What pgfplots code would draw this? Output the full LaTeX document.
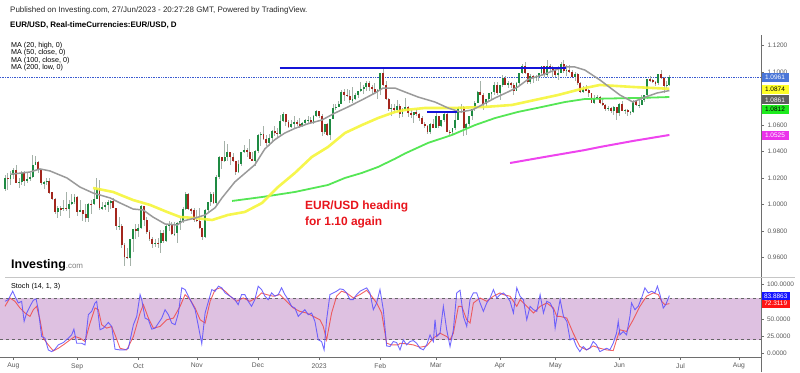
\documentclass[border=0pt]{standalone}
\usepackage{pgfplots}
\pgfplotsset{compat=1.18}
\usepackage{pgfplotstable}
\usepackage{fontspec}
\setmainfont{Liberation Sans}
\definecolor{upc}{HTML}{1E8A42}
\definecolor{dnc}{HTML}{A3261D}
\definecolor{wickc}{HTML}{A5B2A9}
\definecolor{ma20}{HTML}{9A9A9A}
\definecolor{ma50}{HTML}{F5F53A}
\definecolor{ma100}{HTML}{55E655}
\definecolor{ma200}{HTML}{EE44EE}
\definecolor{hline}{HTML}{1414D8}
\definecolor{band}{HTML}{DEC1E1}
\definecolor{stk}{HTML}{5A50FF}
\definecolor{std}{HTML}{F04848}
\definecolor{txtg}{HTML}{5A5A5A}
\definecolor{redtxt}{HTML}{E8141C}
\definecolor{axc}{HTML}{6E6E6E}
\definecolor{dotc}{HTML}{3A5AD0}

\pgfplotstableread{
i o h l c
-3 1.0117 1.0220 1.0100 1.0200
-2 1.0200 1.0235 1.0110 1.0195
-1 1.0195 1.0255 1.0145 1.0220
0 1.0220 1.0275 1.0195 1.0260
1 1.0260 1.0295 1.0160 1.0165
2 1.0165 1.0200 1.0125 1.0172
3 1.0172 1.0255 1.0150 1.0245
4 1.0245 1.0250 1.0140 1.0180
5 1.0180 1.0235 1.0160 1.0195
6 1.0195 1.0240 1.0180 1.0210
7 1.0210 1.0370 1.0200 1.0300
8 1.0300 1.0365 1.0295 1.0320
9 1.0320 1.0325 1.0235 1.0260
10 1.0260 1.0265 1.0150 1.0160
11 1.0160 1.0180 1.0120 1.0170
12 1.0170 1.0200 1.0150 1.0180
13 1.0180 1.0200 1.0080 1.0090
14 1.0090 1.0095 1.0035 1.0040
15 1.0040 1.0045 0.9925 0.9940
16 0.9940 0.9985 0.9900 0.9970
17 0.9970 0.9990 0.9910 0.9965
18 0.9965 1.0030 0.9950 0.9975
19 0.9975 1.0090 0.9950 0.9965
20 0.9965 1.0030 0.9900 1.0000
21 1.0000 1.0080 0.9995 1.0015
22 1.0015 1.0080 1.0000 1.0055
23 1.0055 1.0060 0.9910 0.9945
24 0.9945 1.0035 0.9940 0.9955
25 0.9955 0.9960 0.9875 0.9925
26 0.9925 1.0000 0.9865 0.9900
27 0.9900 1.0010 0.9865 1.0005
28 1.0005 1.0030 0.9930 1.0000
29 1.0000 1.0115 0.9995 1.0040
30 1.0040 1.0200 1.0040 1.0120
31 1.0120 1.0185 0.9960 0.9970
32 0.9970 1.0020 0.9955 0.9980
33 0.9980 1.0015 0.9955 0.9995
34 0.9995 1.0035 0.9945 1.0015
35 1.0015 1.0030 0.9965 1.0025
36 1.0025 1.0050 0.9970 0.9970
37 0.9970 0.9975 0.9810 0.9835
38 0.9835 0.9905 0.9805 0.9840
39 0.9840 0.9850 0.9670 0.9690
40 0.9690 0.9710 0.9535 0.9605
41 0.9605 0.9670 0.9590 0.9595
42 0.9595 0.9740 0.9535 0.9735
43 0.9735 0.9815 0.9640 0.9815
44 0.9815 0.9855 0.9735 0.9800
45 0.9800 0.9855 0.9750 0.9825
46 0.9825 0.9999 0.9815 0.9985
47 0.9985 0.9990 0.9835 0.9885
48 0.9885 0.9905 0.9780 0.9795
49 0.9795 0.9810 0.9720 0.9740
50 0.9740 0.9755 0.9670 0.9700
51 0.9700 0.9740 0.9680 0.9710
52 0.9710 0.9745 0.9670 0.9705
53 0.9705 0.9810 0.9630 0.9785
54 0.9785 0.9810 0.9710 0.9720
55 0.9720 0.9845 0.9715 0.9835
56 0.9835 0.9875 0.9800 0.9855
57 0.9855 0.9865 0.9765 0.9775
58 0.9775 0.9870 0.9760 0.9780
59 0.9780 0.9870 0.9705 0.9860
60 0.9860 0.9900 0.9810 0.9875
61 0.9875 0.9980 0.9860 0.9965
62 0.9965 1.0095 0.9960 1.0080
63 1.0080 1.0090 0.9960 0.9965
64 0.9965 0.9975 0.9930 0.9958
65 0.9958 0.9975 0.9870 0.9885
66 0.9885 0.9955 0.9870 0.9875
67 0.9875 0.9975 0.9815 0.9820
68 0.9820 0.9825 0.9730 0.9750
69 0.9750 0.9965 0.9745 0.9960
70 0.9960 1.0020 0.9935 1.0020
71 1.0020 1.0095 0.9990 1.0075
72 1.0075 1.0095 1.0005 1.0010
73 1.0010 1.0225 0.9995 1.0205
74 1.0205 1.0365 1.0190 1.0355
75 1.0355 1.0360 1.0270 1.0325
76 1.0325 1.0480 1.0320 1.0355
77 1.0355 1.0455 1.0330 1.0395
78 1.0395 1.0400 1.0300 1.0360
79 1.0360 1.0390 1.0320 1.0325
80 1.0325 1.0330 1.0225 1.0245
81 1.0245 1.0335 1.0240 1.0305
82 1.0305 1.0400 1.0290 1.0395
83 1.0395 1.0450 1.0385 1.0410
84 1.0410 1.0430 1.0360 1.0400
85 1.0400 1.0495 1.0340 1.0340
86 1.0340 1.0400 1.0325 1.0330
87 1.0330 1.0410 1.0290 1.0405
88 1.0405 1.0530 1.0385 1.0525
89 1.0525 1.0545 1.0445 1.0535
90 1.0535 1.0595 1.0485 1.0495
91 1.0495 1.0525 1.0445 1.0465
92 1.0465 1.0535 1.0445 1.0505
93 1.0505 1.0560 1.0480 1.0555
94 1.0555 1.0590 1.0515 1.0540
95 1.0540 1.0575 1.0505 1.0535
96 1.0535 1.0675 1.0525 1.0630
97 1.0630 1.0695 1.0625 1.0680
98 1.0680 1.0685 1.0595 1.0625
99 1.0625 1.0635 1.0575 1.0585
100 1.0585 1.0640 1.0575 1.0605
101 1.0605 1.0665 1.0570 1.0620
102 1.0620 1.0640 1.0595 1.0605
103 1.0605 1.0650 1.0575 1.0595
104 1.0595 1.0625 1.0585 1.0615
105 1.0615 1.0645 1.0610 1.0635
106 1.0635 1.0670 1.0615 1.0640
107 1.0640 1.0660 1.0610 1.0615
108 1.0615 1.0675 1.0605 1.0665
109 1.0665 1.0715 1.0660 1.0705
110 1.0705 1.0710 1.0655 1.0665
111 1.0665 1.0685 1.0520 1.0545
112 1.0545 1.0610 1.0535 1.0605
113 1.0605 1.0615 1.0520 1.0525
114 1.0525 1.0645 1.0485 1.0645
115 1.0645 1.0760 1.0645 1.0730
116 1.0730 1.0760 1.0715 1.0738
117 1.0738 1.0780 1.0735 1.0760
118 1.0760 1.0865 1.0760 1.0850
119 1.0850 1.0875 1.0780 1.0830
120 1.0830 1.0875 1.0810 1.0820
121 1.0820 1.0865 1.0770 1.0790
122 1.0790 1.0890 1.0765 1.0795
123 1.0795 1.0840 1.0790 1.0830
124 1.0830 1.0860 1.0805 1.0855
125 1.0855 1.0925 1.0850 1.0870
126 1.0870 1.0905 1.0835 1.0885
127 1.0885 1.0930 1.0860 1.0915
128 1.0915 1.0930 1.0860 1.0890
129 1.0890 1.0905 1.0835 1.0870
130 1.0870 1.0915 1.0835 1.0850
131 1.0850 1.0870 1.0800 1.0865
132 1.0865 1.0990 1.0830 1.0990
133 1.0990 1.1033 1.0895 1.0905
134 1.0905 1.0930 1.0790 1.0795
135 1.0795 1.0805 1.0710 1.0725
136 1.0725 1.0760 1.0670 1.0730
137 1.0730 1.0760 1.0695 1.0715
138 1.0715 1.0790 1.0700 1.0745
139 1.0745 1.0760 1.0655 1.0680
140 1.0680 1.0730 1.0660 1.0725
141 1.0725 1.0805 1.0705 1.0740
142 1.0740 1.0745 1.0660 1.0690
143 1.0690 1.0715 1.0655 1.0675
144 1.0675 1.0695 1.0615 1.0695
145 1.0695 1.0725 1.0670 1.0685
146 1.0685 1.0695 1.0630 1.0650
147 1.0650 1.0665 1.0605 1.0605
148 1.0605 1.0625 1.0575 1.0595
149 1.0595 1.0600 1.0535 1.0545
150 1.0545 1.0615 1.0535 1.0605
151 1.0605 1.0645 1.0575 1.0575
152 1.0575 1.0690 1.0575 1.0670
153 1.0670 1.0670 1.0580 1.0595
154 1.0595 1.0640 1.0585 1.0635
155 1.0635 1.0695 1.0625 1.0685
156 1.0685 1.0695 1.0545 1.0550
157 1.0550 1.0565 1.0525 1.0545
158 1.0545 1.0580 1.0535 1.0580
159 1.0580 1.0700 1.0560 1.0640
160 1.0640 1.0735 1.0640 1.0730
161 1.0730 1.0760 1.0690 1.0735
162 1.0735 1.0745 1.0515 1.0575
163 1.0575 1.0615 1.0525 1.0610
164 1.0610 1.0670 1.0595 1.0670
165 1.0670 1.0725 1.0635 1.0720
166 1.0720 1.0785 1.0710 1.0770
167 1.0770 1.0855 1.0765 1.0850
168 1.0850 1.0930 1.0825 1.0830
169 1.0830 1.0840 1.0715 1.0760
170 1.0760 1.0800 1.0745 1.0800
171 1.0800 1.0845 1.0775 1.0840
172 1.0840 1.0845 1.0790 1.0848
173 1.0848 1.0925 1.0830 1.0905
174 1.0905 1.0925 1.0830 1.0840
175 1.0840 1.0905 1.0790 1.0900
176 1.0900 1.0975 1.0890 1.0955
177 1.0955 1.0970 1.0900 1.0905
178 1.0905 1.0935 1.0880 1.0920
179 1.0920 1.0925 1.0880 1.0905
180 1.0905 1.0915 1.0830 1.0860
181 1.0860 1.0925 1.0860 1.0915
182 1.0915 1.0995 1.0905 1.0990
183 1.0990 1.1065 1.0985 1.1045
184 1.1045 1.1075 1.0985 1.0990
185 1.0990 1.0995 1.0910 1.0925
186 1.0925 1.0985 1.0910 1.0970
187 1.0970 1.0975 1.0915 1.0960
188 1.0960 1.0975 1.0935 1.0965
189 1.0965 1.0995 1.0935 1.0990
190 1.0990 1.1045 1.0975 1.1045
191 1.1045 1.1050 1.0965 1.0975
192 1.0975 1.1095 1.0965 1.1045
193 1.1045 1.1065 1.1000 1.1030
194 1.1030 1.1050 1.0960 1.1015
195 1.1015 1.1025 1.0965 1.0975
196 1.0975 1.1045 1.0940 1.0995
197 1.0995 1.1080 1.0990 1.1065
198 1.1065 1.1090 1.0995 1.1010
199 1.1010 1.1055 1.0970 1.1020
200 1.1020 1.1055 1.0990 1.1005
201 1.1005 1.1015 1.0960 1.0960
202 1.0960 1.1000 1.0935 1.0985
203 1.0985 1.0990 1.0905 1.0915
204 1.0915 1.0925 1.0845 1.0850
205 1.0850 1.0895 1.0840 1.0870
206 1.0870 1.0905 1.0855 1.0865
207 1.0865 1.0875 1.0810 1.0840
208 1.0840 1.0845 1.0770 1.0770
209 1.0770 1.0830 1.0760 1.0805
210 1.0805 1.0830 1.0795 1.0815
211 1.0815 1.0820 1.0760 1.0770
212 1.0770 1.0805 1.0745 1.0750
213 1.0750 1.0760 1.0705 1.0725
214 1.0725 1.0745 1.0705 1.0730
215 1.0730 1.0735 1.0690 1.0705
216 1.0705 1.0745 1.0675 1.0735
217 1.0735 1.0740 1.0635 1.0690
218 1.0690 1.0765 1.0665 1.0760
219 1.0760 1.0780 1.0705 1.0710
220 1.0710 1.0725 1.0680 1.0715
221 1.0715 1.0720 1.0665 1.0695
222 1.0695 1.0710 1.0675 1.0700
223 1.0700 1.0790 1.0690 1.0780
224 1.0780 1.0790 1.0745 1.0750
225 1.0750 1.0790 1.0730 1.0755
226 1.0755 1.0825 1.0750 1.0790
227 1.0790 1.0830 1.0775 1.0830
228 1.0830 1.0950 1.0800 1.0945
229 1.0945 1.0970 1.0925 1.0940
230 1.0940 1.0945 1.0915 1.0925
231 1.0925 1.0935 1.0895 1.0915
232 1.0915 1.0985 1.0900 1.0985
233 1.0985 1.1013 1.0950 1.0955
234 1.0955 1.0960 1.0845 1.0895
235 1.0895 1.0935 1.0880 1.0905
236 1.0905 1.0975 1.0895 1.0961
}\candles

\pgfplotstableread{
i p
-1 1.0228
6.0 1.0245
9.6 1.0268
13.2 1.0253
19.3 1.0200
24.0 1.0131
28.7 1.0086
34.8 1.0049
38.4 1.0011
43.1 0.9965
46.7 0.9958
50.2 0.9905
54.6 0.9852
58.9 0.9844
61.0 0.9874
65.4 0.9897
69.0 0.9920
72.6 0.9975
75.1 1.0050
79.7 1.0170
86.9 1.0300
90.5 1.0420
94.1 1.0490
97.7 1.0540
101.3 1.0575
106.0 1.0610
111.0 1.0638
115.7 1.0691
120.4 1.0737
125.4 1.0790
130.1 1.0842
133.0 1.0880
137.3 1.0880
140.9 1.0850
145.6 1.0812
151.7 1.0774
156.4 1.0729
160.7 1.0699
165.0 1.0714
168.6 1.0752
173.3 1.0805
177.9 1.0850
181.5 1.0888
185.1 1.0945
190.2 1.0978
194.9 1.1016
198.4 1.1039
202.0 1.1039
205.6 1.1016
211.0 1.0941
218.2 1.0827
222.9 1.0774
226.5 1.0805
231.5 1.0842
236 1.0861
}\maA

\pgfplotstableread{
i p
28.7 1.0124
35.9 1.0094
43.1 1.0033
49.2 0.9996
55.3 0.9943
60.0 0.9905
65.4 0.9897
71.5 0.9882
77.2 0.9920
83.3 0.9943
89.5 1.0011
95.2 1.0131
101.3 1.0238
107.4 1.0359
113.2 1.0434
119.3 1.0540
125.4 1.0600
131.2 1.0653
137.3 1.0699
140.9 1.0714
148.1 1.0729
157.8 1.0729
169.7 1.0737
179.4 1.0752
187.7 1.0790
195.9 1.0827
205.6 1.0880
211.0 1.0903
222.9 1.0888
236 1.0874
}\maB

\pgfplotstableread{
i p
78.7 1.0026
89.5 1.0056
101.3 1.0094
113.2 1.0147
119.3 1.0200
125.4 1.0238
131.2 1.0283
137.3 1.0345
140.9 1.0385
149.2 1.0465
157.8 1.0525
166.1 1.0600
173.3 1.0653
181.5 1.0699
190.2 1.0737
198.4 1.0774
205.6 1.0797
214.6 1.0801
225.4 1.0805
236 1.0812
}\maC

\pgfplotstableread{
i p
178.7 1.0313
192.0 1.0362
205.6 1.0411
211.0 1.0434
223.0 1.0480
236 1.0525
}\maD

\pgfplotstableread{
i v
-3.0 75.6
-1.8 78.1
-0.2 90.3
0.6 83.0
1.8 73.2
3.0 75.6
3.9 46.4
4.8 58.6
6.0 68.3
7.2 77.1
8.2 79.1
9.0 63.4
10.2 24.4
11.4 22.0
12.6 4.9
13.8 2.4
15.0 5.9
16.2 12.2
18.0 15.6
19.8 22.0
21.0 26.8
21.8 35.1
22.8 14.6
24.6 14.6
25.8 12.2
27.0 56.1
28.2 61.0
29.4 73.2
30.0 75.6
31.2 34.2
32.4 36.6
34.2 44.9
35.4 39.0
36.6 5.9
38.4 4.9
40.2 4.9
41.4 7.3
43.2 41.5
44.4 53.7
45.6 85.4
46.2 78.1
47.4 51.2
48.6 48.8
49.8 35.1
51.0 36.6
52.2 43.9
53.4 51.2
54.6 63.4
55.8 56.1
57.0 43.9
58.2 41.5
59.4 58.6
60.6 95.2
61.8 92.7
63.0 83.0
64.2 73.2
65.4 63.4
66.6 39.0
67.8 13.7
69.0 58.6
70.2 75.6
71.4 92.7
72.6 90.3
73.8 97.6
75.0 95.2
76.2 87.8
78.0 83.0
79.7 78.1
80.9 70.8
82.1 85.4
83.3 85.4
84.5 75.6
85.7 68.3
86.9 78.1
88.1 97.6
89.3 92.7
90.5 83.0
91.7 78.1
92.9 87.8
94.1 83.0
95.3 85.4
96.5 95.2
97.7 85.4
98.9 78.1
100.1 68.3
101.3 65.9
102.5 53.7
103.7 58.6
104.9 63.4
106.1 56.1
107.3 58.6
108.5 46.4
109.7 19.5
110.9 17.1
111.8 4.9
112.7 48.8
113.9 85.4
115.1 87.8
116.3 90.3
117.5 93.7
118.7 92.7
119.9 87.8
121.1 78.1
122.3 78.1
123.5 85.4
124.7 90.3
125.9 92.7
127.1 95.2
128.3 87.8
129.5 63.4
130.7 73.2
131.9 92.7
133.1 63.4
134.3 10.7
135.5 9.8
136.7 17.1
137.9 15.6
139.1 4.9
140.3 19.5
141.5 12.2
142.7 17.1
143.9 18.5
145.1 14.6
146.3 7.3
147.5 4.9
148.7 12.2
149.9 26.8
151.1 17.1
151.7 48.8
152.3 24.4
153.5 29.3
154.7 68.3
155.9 34.2
157.1 9.8
158.3 34.2
159.5 87.8
160.7 91.7
161.9 53.7
163.1 39.0
164.3 78.1
165.5 87.8
166.7 87.8
167.9 73.2
169.1 61.0
170.3 73.2
171.5 80.5
172.7 92.7
173.9 80.5
175.1 85.4
176.3 87.8
177.5 83.0
178.7 75.6
179.9 58.6
181.1 95.2
182.3 83.0
183.5 78.1
184.7 48.8
185.9 68.3
187.1 63.4
188.3 61.0
189.5 85.4
190.7 58.6
191.9 75.6
193.1 73.2
194.3 63.4
194.9 36.6
195.5 51.2
196.7 78.1
197.9 53.7
199.1 46.4
200.3 19.5
201.4 22.0
202.6 9.8
203.8 2.4
205.0 9.8
206.2 4.9
207.4 7.3
208.6 17.1
209.8 12.2
211.0 2.4
212.2 4.9
213.4 7.3
214.6 4.9
215.8 14.6
217.0 29.3
217.6 46.4
218.2 26.8
219.4 31.7
220.6 26.8
221.8 53.7
222.4 73.2
223.6 63.4
224.8 68.3
226.0 80.5
227.2 95.2
228.4 87.8
229.6 90.3
230.8 87.8
231.7 97.6
232.6 85.4
233.8 65.9
234.7 70.8
236.0 83.9
}\stochK

\pgfplotstableread{
i v
-3.0 68.3
-1.2 80.5
0.6 75.6
2.4 65.9
4.2 58.6
6.0 53.7
7.2 63.4
8.4 68.3
9.6 48.8
10.8 22.0
12.6 12.2
14.4 3.4
16.2 7.3
18.0 12.2
20.4 19.5
22.2 24.4
24.0 22.0
25.8 17.1
27.6 43.9
29.4 65.9
30.6 63.4
31.8 41.5
33.6 36.6
35.4 39.0
36.6 26.8
38.4 7.3
40.8 4.9
43.2 24.4
45.6 58.6
46.8 70.8
48.6 51.2
50.4 36.6
52.8 39.0
55.2 48.8
57.6 51.2
60.0 68.3
61.8 85.4
63.6 78.1
65.4 65.9
67.2 48.8
69.0 43.9
70.8 75.6
72.6 92.7
74.4 95.2
76.2 90.3
78.0 83.0
80.3 75.6
82.7 80.5
85.1 75.6
87.5 80.5
89.3 87.8
91.1 85.4
93.5 83.0
95.9 85.4
98.3 75.6
100.7 65.9
103.1 61.0
105.5 58.6
107.9 53.7
110.3 48.8
111.5 39.0
112.7 19.5
114.5 58.6
116.3 83.0
118.1 90.3
119.9 87.8
122.3 80.5
124.7 85.4
127.1 91.7
128.9 83.0
130.7 73.2
132.5 58.6
134.3 14.6
136.1 12.2
138.5 12.2
139.1 14.6
141.5 13.7
143.9 12.2
146.3 8.8
148.7 10.7
151.1 22.0
153.5 29.3
155.9 24.4
157.1 19.5
158.3 29.3
160.1 68.3
161.3 68.3
163.1 48.8
164.3 43.9
165.5 73.2
167.9 80.5
170.3 75.6
172.7 83.0
173.9 85.4
175.1 87.8
176.3 85.4
178.7 83.0
179.9 75.6
181.1 68.3
182.3 78.1
184.7 68.3
187.1 58.6
189.5 68.3
191.9 73.2
194.3 65.9
195.5 53.7
196.7 53.7
199.1 51.2
201.4 29.3
203.8 9.8
206.2 4.9
208.6 10.7
211.0 7.3
213.4 4.9
215.8 3.9
217.0 19.5
218.2 34.2
220.6 31.7
223.0 48.8
225.4 68.3
227.8 83.0
230.2 87.8
232.0 85.4
233.2 75.6
234.4 70.8
236.0 72.3
}\stochD

\pgfplotsset{
  candlebase/.style={draw=none, mark=none, forget plot,
    error bars/.cd, y dir=both, y explicit, error mark=none},
}
\tikzset{
  pbox/.style={anchor=west, font=\fontsize{6.5}{7}\selectfont, inner xsep=2bp,
    inner ysep=0pt, minimum width=27.5bp, minimum height=9bp, text depth=0pt},
}

\begin{document}
\begin{tikzpicture}[x=1bp,y=1bp]
\useasboundingbox (0,0) rectangle (800,372);

% ---------------- main price pane ----------------
\begin{axis}[
  at={(0bp,95bp)}, anchor=south west,
  scale only axis, width=761bp, height=242bp,
  xmin=-4.78, xmax=268.96, ymin=0.9451, ymax=1.1281,
  axis x line=none, axis y line=right,
  axis line style={-, draw=axc, line width=0.8bp},
  ytick={0.96,0.98,1.00,1.02,1.04,1.06,1.10,1.12},
  tick align=outside, major tick length=3bp,
  tick style={draw=axc, line width=0.5bp},
  yticklabel style={font=\fontsize{6.5}{7}\selectfont, text=txtg,
    /pgf/number format/.cd, fixed, fixed zerofill, precision=4, assume math mode=true},
  clip=false,
]
% current price dotted line
\addplot[dotc, densely dotted, line width=0.7bp, forget plot] coordinates {(-4.78,1.0961) (268.96,1.0961)};

% wicks
\addplot[candlebase, error bar style={draw=wickc, line width=0.6bp, solid}]
  table[x=i, y expr={(\thisrow{h}+\thisrow{l})/2}, y error expr={(\thisrow{h}-\thisrow{l})/2}]{\candles};
% up bodies
\addplot[candlebase, error bar style={draw=upc, line width=1.9bp, solid}]
  table[x=i, y expr={(\thisrow{o}+\thisrow{c})/2}, y error expr={max(\thisrow{c}-\thisrow{o},0)/2}]{\candles};
% down bodies
\addplot[candlebase, error bar style={draw=dnc, line width=1.9bp, solid}]
  table[x=i, y expr={(\thisrow{o}+\thisrow{c})/2}, y error expr={max(\thisrow{o}-\thisrow{c},0)/2}]{\candles};

% moving averages
\addplot[ma200, line width=2bp, mark=none] table[x=i, y=p]{\maD};
\addplot[ma100, line width=1.8bp, mark=none] table[x=i, y=p]{\maC};
\addplot[ma50, line width=2.6bp, mark=none, opacity=0.9] table[x=i, y=p]{\maB};
\addplot[ma20, line width=1.5bp, mark=none] table[x=i, y=p]{\maA};

% horizontal resistance / support lines
\addplot[hline, line width=2bp, mark=none] coordinates {(95.9,1.1030) (198.8,1.1030)};
\addplot[hline, line width=2bp, mark=none] coordinates {(148.9,1.0697) (159.6,1.0697)};

% price boxes
\node[pbox, fill={rgb,255:red,74;green,118;blue,216}, text=white] at (axis cs:268.96,1.0961) {1.0961};
\node[pbox, fill={rgb,255:red,255;green,255;blue,40}, text=black] at (axis cs:268.96,1.0870) {1.0874};
\node[pbox, fill={rgb,255:red,95;green,95;blue,95}, text=white] at (axis cs:268.96,1.0790) {1.0861};
\node[pbox, fill={rgb,255:red,30;green,235;blue,30}, text=black] at (axis cs:268.96,1.0719) {1.0812};
\node[pbox, fill={rgb,255:red,235;green,50;blue,235}, text=white] at (axis cs:268.96,1.0520) {1.0525};
\end{axis}

% ---------------- stochastic pane ----------------
\begin{axis}[
  at={(0bp,14.7bp)}, anchor=south west,
  scale only axis, width=761bp, height=78.8bp,
  xmin=-4.78, xmax=268.96, ymin=-5.86, ymax=108.8,
  axis x line=bottom, axis y line=right,
  axis line style={-, draw=axc, line width=0.8bp},
  xtick={0,23,45,66,88,110,132,152,175,195,218,240,261},
  xticklabels={Aug,Sep,Oct,Nov,Dec,2023,Feb,Mar,Apr,May,Jun,Jul,Aug},
  ytick={0,25,50,100},
  tick align=outside, major tick length=2.5bp,
  tick style={draw=axc, line width=0.5bp},
  xticklabel style={font=\fontsize{6.8}{7}\selectfont, text=txtg},
  yticklabel style={font=\fontsize{6.5}{7}\selectfont, text=txtg,
    /pgf/number format/.cd, fixed, fixed zerofill, precision=4, assume math mode=true},
  clip=false,
]
\addplot[fill=band, draw=none, forget plot] coordinates {(-4.78,20) (268.96,20) (268.96,80) (-4.78,80)};
\addplot[gray!80!black, dashed, line width=0.6bp, forget plot] coordinates {(-4.78,80) (268.96,80)};
\addplot[gray!80!black, dashed, line width=0.6bp, forget plot] coordinates {(-4.78,20) (268.96,20)};
\addplot[std, line width=0.9bp, mark=none, opacity=0.85] table[x=i, y=v]{\stochD};
\addplot[stk, line width=0.9bp, mark=none, opacity=0.85] table[x=i, y=v]{\stochK};
\node[pbox, fill={rgb,255:red,20;green,20;blue,255}, text=white, minimum height=7.6bp, minimum width=29bp] at (axis cs:268.96,83.3) {83.8863};
\node[pbox, fill={rgb,255:red,255;green,20;blue,20}, text=white, minimum height=7.6bp, minimum width=29bp] at (axis cs:268.96,72.1) {72.3119};
\end{axis}

% frame lines
\draw[axc, line width=0.8bp] (761,0) -- (761,337);
\draw[gray!45, line width=1.6bp] (5,94.5) -- (795,94.5);

% header texts
\node[anchor=west, inner sep=0pt, text={rgb,255:red,40;green,40;blue,40}, font=\fontsize{8}{9}\selectfont] at (10,362) {Published on Investing.com, 27/Jun/2023 - 20:27:28 GMT, Powered by TradingView.};
\node[anchor=west, inner sep=0pt, font=\fontsize{8}{9}\selectfont\bfseries] at (10,347) {EUR/USD, Real-timeCurrencies:EUR/USD, D};
\node[anchor=west, inner sep=0pt, font=\fontsize{7.2}{8}\selectfont] at (11,326.5) {MA (20, high, 0)};
\node[anchor=west, inner sep=0pt, font=\fontsize{7.2}{8}\selectfont] at (11,319) {MA (50, close, 0)};
\node[anchor=west, inner sep=0pt, font=\fontsize{7.2}{8}\selectfont] at (11,311.5) {MA (100, close, 0)};
\node[anchor=west, inner sep=0pt, font=\fontsize{7.2}{8}\selectfont] at (11,304) {MA (200, low, 0)};
\node[anchor=west, inner sep=0pt, font=\fontsize{7.2}{8}\selectfont] at (11,85) {Stoch (14, 1, 3)};

% logo
\node[anchor=base west, inner sep=0pt] at (11,104) {\fontsize{12.5}{13}\selectfont\bfseries Investing\fontsize{8}{9}\selectfont\mdseries\color{gray}.com};

% annotation
\node[anchor=base west, inner sep=0pt, text=redtxt, font=\fontsize{12}{13}\selectfont\bfseries] at (305,163) {EUR/USD heading};
\node[anchor=base west, inner sep=0pt, text=redtxt, font=\fontsize{12}{13}\selectfont\bfseries] at (305,147) {for 1.10 again};
\end{tikzpicture}
\end{document}
